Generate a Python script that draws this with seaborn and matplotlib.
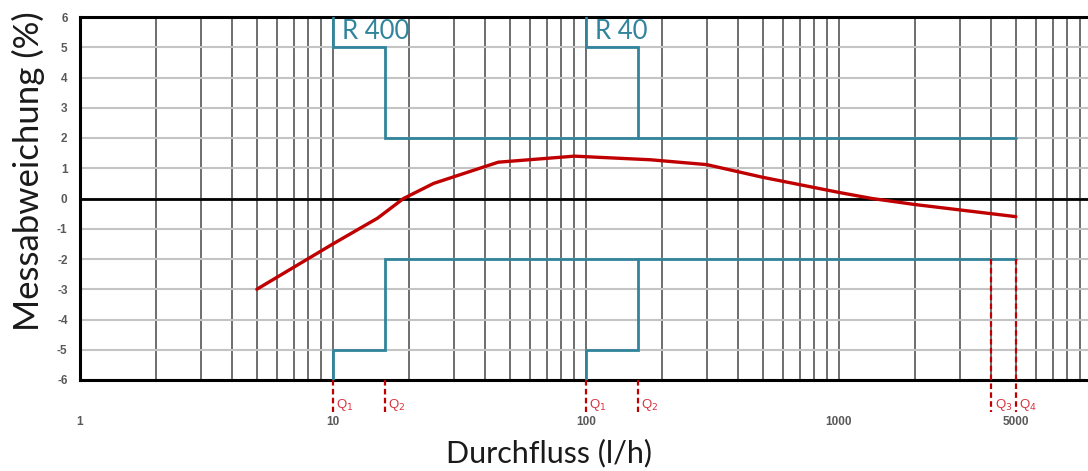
import matplotlib
matplotlib.use("Agg")
import matplotlib.pyplot as plt
import matplotlib.ticker as mticker
import seaborn as sns
import pandas as pd

# ---- data ----
flow = [5, 10, 15, 19, 25, 45, 90, 180, 300, 500, 1000, 1350, 2000, 5000]
deviation = [-3.0, -1.5, -0.65, 0.0, 0.5, 1.2, 1.4, 1.28, 1.12, 0.7, 0.2, 0.0, -0.2, -0.6]

r400_upper_x = [10, 10, 16, 16, 5000]
r400_upper_y = [6, 5, 5, 2, 2]
r400_lower_x = [10, 10, 16, 16, 5000]
r400_lower_y = [-6, -5, -5, -2, -2]
r40_upper_x = [100, 100, 160, 160]
r40_upper_y = [6, 5, 5, 2]
r40_lower_x = [100, 100, 160, 160]
r40_lower_y = [-6, -5, -5, -2]

q_flows = [10, 16, 100, 160, 4000, 5000]
q_tops = [-6, -6, -6, -6, -2, -2]
q_names = ["1", "2", "1", "2", "3", "4"]

x_ticks = [1, 10, 100, 1000, 5000]
x_tick_labels = ["1", "10", "100", "1000", "5000"]
y_ticks = list(range(-6, 7))

range_labels = ["R 400", "R 40"]
range_label_x = [10, 100]

TEAL = "#31849B"
RED = "#C00000"

sns.set_style("white")
plt.rcParams["font.family"] = ["Liberation Sans", "DejaVu Sans"]

fig = plt.figure(figsize=(10.88, 4.71), dpi=100)
ax = fig.add_axes([80 / 1088, 1 - 380 / 471, (1092 - 80) / 1088, (380 - 17) / 471])

ax.set_xscale("log")
ax.set_xlim(1, 10000)
ax.set_ylim(-6, 6)

# grid
ax.xaxis.set_major_locator(mticker.FixedLocator(x_ticks))
ax.xaxis.set_major_formatter(mticker.FixedFormatter(x_tick_labels))
ax.xaxis.set_minor_locator(mticker.LogLocator(base=10, subs=[2, 3, 4, 5, 6, 7, 8, 9], numticks=20))
ax.xaxis.set_minor_formatter(mticker.NullFormatter())
ax.set_yticks(y_ticks)
ax.set_yticklabels([str(v) for v in y_ticks])
ax.grid(True, which="both", axis="x", color="#6e6e6e", linewidth=1.4)
ax.grid(True, which="major", axis="y", color="#c4c4c4", linewidth=1.5)
ax.set_axisbelow(True)

ax.tick_params(axis="x", which="both", length=0, pad=26, labelsize=8.5, labelcolor="#595959")
ax.tick_params(axis="y", which="both", length=0, pad=9, labelsize=8.5, labelcolor="#595959")
for lab in ax.get_xticklabels() + ax.get_yticklabels():
    lab.set_fontweight("bold")

for side in ["left", "bottom", "top"]:
    ax.spines[side].set_color("black")
    ax.spines[side].set_linewidth(2.2)
ax.spines["right"].set_visible(False)

ax.axhline(0, color="black", linewidth=2.0, zorder=2)

# limit envelopes
for xs, ys in [(r400_upper_x, r400_upper_y), (r400_lower_x, r400_lower_y),
               (r40_upper_x, r40_upper_y), (r40_lower_x, r40_lower_y)]:
    df = pd.DataFrame({"x": xs, "y": ys})
    sns.lineplot(data=df, x="x", y="y", sort=False, estimator=None, ax=ax,
                 color=TEAL, linewidth=2.0, zorder=3, solid_joinstyle="miter")

for lbl, lx in zip(range_labels, range_label_x):
    ax.text(lx * 1.085, 5.52, lbl, color=TEAL, fontsize=18.5, va="center", ha="left",
            family=["Lato", "DejaVu Sans"], zorder=4)

# measured curve
curve = pd.DataFrame({"Durchfluss": flow, "Messabweichung": deviation})
sns.lineplot(data=curve, x="Durchfluss", y="Messabweichung", ax=ax, color=RED,
             linewidth=2.4, zorder=5)

# Q markers
for qx, qt, qn in zip(q_flows, q_tops, q_names):
    ax.plot([qx, qx], [qt, -7.05], color=RED, linewidth=1.6, linestyle=(0, (2.5, 1.5)),
            clip_on=False, zorder=4)
    ax.text(qx * 1.03, -6.82, "Q$_{" + qn + "}$", color="#D9333F", fontsize=9.5,
            va="center", ha="left", clip_on=False)

ax.set_xlabel("Durchfluss (l/h)", fontsize=22, family=["Lato", "DejaVu Sans"],
              color="#1a1a1a")
ax.set_ylabel("Messabweichung (%)", fontsize=25, family=["Lato", "DejaVu Sans"],
              color="#1a1a1a")
ax.xaxis.label.set_va("center")
ax.xaxis.set_label_coords((549 - 80) / 1012, (380 - 453) / 363)
ax.yaxis.label.set_va("center")
ax.yaxis.label.set_rotation_mode("anchor")
ax.yaxis.set_label_coords((28 - 80) / 1012, (380 - 171) / 363)

fig.savefig("out.png", dpi=100)
